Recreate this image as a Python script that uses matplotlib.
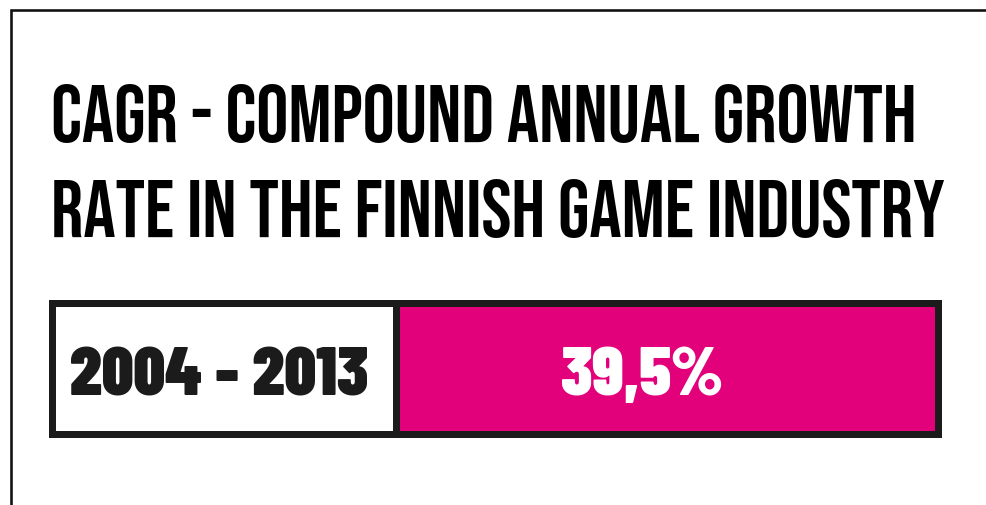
import matplotlib
matplotlib.use("Agg")
import matplotlib.pyplot as plt

# Chart content
title_lines = ["CAGR - COMPOUND ANNUAL GROWTH", "RATE IN THE FINNISH GAME INDUSTRY"]
periods = ["2004 - 2013"]
cagr_pct = [39.5]

MAGENTA = "#E3007B"
INK = "#1b1b1b"

W, H = 987, 505
fig = plt.figure(figsize=(W / 100, H / 100), dpi=100)
ax = fig.add_axes([0, 0, 1, 1])
ax.set_xlim(0, W)
ax.set_ylim(H, 0)
ax.axis("off")

px = 72 / 100  # points per pixel

# outer frame (open to the right and bottom)
ax.plot([11, 11, W + 5], [H + 5, 10, 10], color="#111111", lw=2.6 * px,
        solid_joinstyle="miter", solid_capstyle="butt")

# title
title_font = dict(family="Bebas Neue", fontsize=58, color="black")
ax.text(51, 142, title_lines[0], ha="left", va="baseline", **title_font)
ax.text(51, 237, title_lines[1], ha="left", va="baseline", **title_font)

# label box + value box, drawn as a two-segment horizontal bar
bar_y, bar_h = 368.5, 131.6
label_left, split, right = 51.5, 395.7, 937.8
ax.barh(bar_y, split - label_left, left=label_left, height=bar_h,
        color="white", edgecolor=INK, linewidth=7 * px, zorder=2)
ax.barh(bar_y, right - split, left=split, height=bar_h,
        color=MAGENTA, edgecolor=INK, linewidth=7 * px, zorder=2)

num_font = dict(family="Barlow Condensed", fontweight=900, fontsize=49.5,
                va="baseline", zorder=3)
ax.text(219, 395, periods[0], ha="center", color=INK, **num_font)
ax.text(642, 395, f"{cagr_pct[0]:.1f}%".replace(".", ","), ha="center",
        color="white", **num_font)

fig.savefig("out.png", dpi=100)
